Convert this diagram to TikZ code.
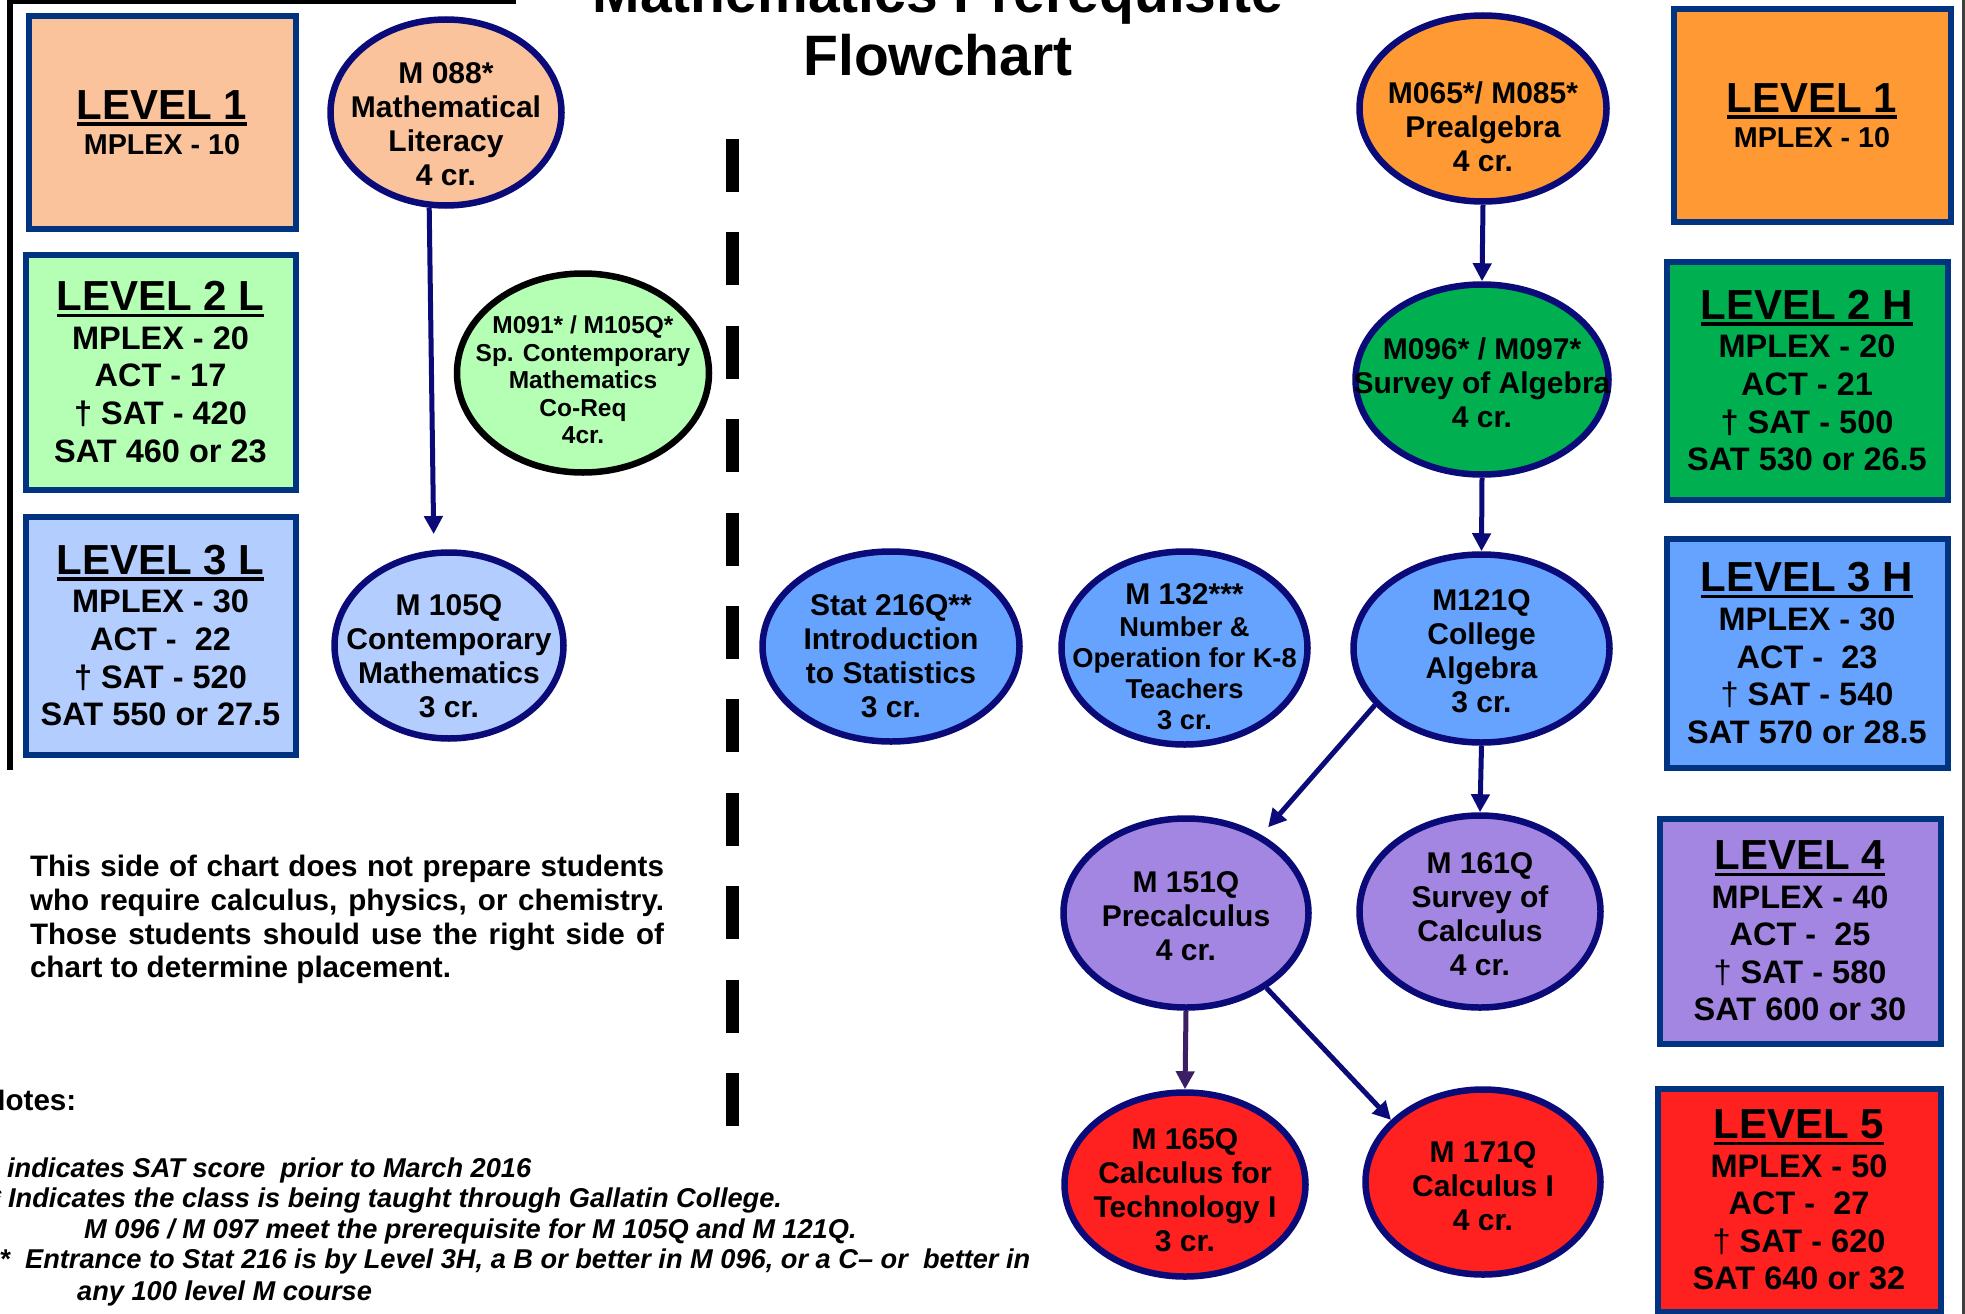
\documentclass[tikz,border=0pt]{standalone}
\usepackage{fontspec}
\setmainfont{Liberation Sans}
\usetikzlibrary{arrows.meta,shapes.geometric}

\definecolor{peach}{RGB}{250,195,155}
\definecolor{mint}{RGB}{180,255,180}
\definecolor{sky}{RGB}{180,205,255}
\definecolor{tangerine}{RGB}{255,153,51}
\definecolor{grass}{RGB}{0,176,80}
\definecolor{azure}{RGB}{102,163,255}
\definecolor{lilac}{RGB}{163,134,225}
\definecolor{scarlet}{RGB}{255,32,32}
\definecolor{boxblue}{RGB}{0,51,128}
\definecolor{navyline}{RGB}{10,10,120}
\definecolor{plumline}{RGB}{60,30,100}

\newcommand{\ulin}[1]{\setbox0=\hbox{#1}\leavevmode\rlap{\rule[-6.5pt]{\wd0}{3.5pt}}\box0}
\newcommand{\nivtit}[1]{{\fontsize{42}{42}\selectfont\ulin{#1}}}

\begin{document}
\begin{tikzpicture}[x=1pt, y=-1pt,
  nivel/.style={draw=boxblue, line width=6pt, inner sep=0pt, align=center,
    font=\bfseries\fontsize{32.5}{37.6}\selectfont},
  curso/.style={draw=navyline, line width=6.5pt, ellipse, inner sep=0pt},
  texto/.style={inner sep=0pt, align=center, font=\bfseries\fontsize{30}{34}\selectfont},
  flecha/.style={draw=navyline, line width=5pt, -{Triangle[length=18pt,width=18pt]}},
  nota/.style={anchor=base west, inner sep=0pt, font=\bfseries\itshape\fontsize{27.2}{30}\selectfont}]
  \useasboundingbox (0,0) rectangle (1965,1314);
  \fill[white] (0,0) rectangle (1965,1314);

  % Marco
  \draw[line width=6pt] (516,1) -- (10,1) -- (10,770);
  \draw[line width=2.5pt, black!75] (1963.5,0) -- (1963.5,1314);

  % Titulo
  \node[font=\bfseries\fontsize{57}{62}\selectfont, anchor=base, inner sep=0pt] (titulo) at (938,13) {Mathematics Prerequisite};
  \node[font=\bfseries\fontsize{57}{62}\selectfont, anchor=base, inner sep=0pt] (titulo2) at (938,75) {Flowchart};

  % Linea divisoria
  \draw[line width=13pt, dash pattern=on 53pt off 40.4pt] (732,139) -- (732,1126);

  % Niveles lado izquierdo
  \node[nivel, fill=peach, minimum width=267pt, minimum height=212pt,
    font=\bfseries\fontsize{28.7}{35}\selectfont] (niv1L) at (162,122.5) {\nivtit{LEVEL 1}\\MPLEX - 10};
  \node[nivel, fill=mint, minimum width=270pt, minimum height=235pt] (niv2L) at (160.5,372)
    {\nivtit{LEVEL 2 L}\\[1pt]MPLEX - 20\\ACT - 17\\† SAT - 420\\SAT 460 or 23};
  \node[nivel, fill=sky, minimum width=270pt, minimum height=238pt] (niv3L) at (160.5,635.5)
    {\nivtit{LEVEL 3 L}\\[1pt]MPLEX - 30\\ACT -\ \ 22\\† SAT - 520\\SAT 550 or 27.5};

  % Niveles lado derecho
  \node[nivel, fill=tangerine, minimum width=277pt, minimum height=212pt,
    font=\bfseries\fontsize{28.7}{35}\selectfont] (niv1H) at (1812,115.5) {\nivtit{LEVEL 1}\\MPLEX - 10};
  \node[nivel, fill=grass, minimum width=281pt, minimum height=238pt] (niv2H) at (1807,380.5)
    {\nivtit{LEVEL 2 H}\\[1pt]MPLEX - 20\\ACT - 21\\† SAT - 500\\SAT 530 or 26.5};
  \node[nivel, fill=azure, minimum width=281pt, minimum height=229pt] (niv3H) at (1807,653)
    {\nivtit{LEVEL 3 H}\\[1pt]MPLEX - 30\\ACT -\ \ 23\\{\mdseries †} SAT - 540\\SAT 570 or 28.5};
  \node[nivel, fill=lilac, minimum width=281pt, minimum height=225pt] (niv4) at (1800,931)
    {\nivtit{LEVEL 4}\\[1pt]MPLEX - 40\\ACT -\ \ 25\\{\mdseries †} SAT - 580\\SAT 600 or 30};
  \node[nivel, fill=scarlet, minimum width=283pt, minimum height=223pt] (niv5) at (1799,1200)
    {\nivtit{LEVEL 5}\\[1pt]MPLEX - 50\\ACT -\ \ 27\\{\mdseries †} SAT - 620\\SAT 640 or 32};

  % Cursos lado izquierdo
  \node[curso, fill=peach, minimum width=231pt, minimum height=186pt] (m088) at (446,112.5) {};
  \node[texto] (m088t) at (446,124) {M 088*\\Mathematical\\Literacy\\4 cr.};
  \node[curso, draw=black, fill=mint, minimum width=252pt, minimum height=199pt] (m091) at (583,373) {};
  \node[texto, font=\bfseries\fontsize{24.5}{27.6}\selectfont] (m091t) at (583,380)
    {M091* / M105Q*\\Sp. Contemporary\\Mathematics\\Co-Req\\4cr.};
  \node[curso, fill=sky, minimum width=229pt, minimum height=186pt] (m105q) at (449,645.5) {};
  \node[texto] (m105qt) at (449,656) {M 105Q\\Contemporary\\Mathematics\\3 cr.};

  % Cursos lado derecho
  \node[curso, fill=azure, minimum width=257pt, minimum height=190pt] (stat216) at (891,646.5) {};
  \node[texto] (stat216t) at (891,656) {Stat 216Q**\\Introduction\\to Statistics\\3 cr.};
  \node[curso, fill=azure, minimum width=246pt, minimum height=193pt] (m132) at (1184.5,648) {};
  \node[texto, font=\bfseries\fontsize{27.3}{31.3}\selectfont] (m132t) at (1184.5,657)
    {{\fontsize{30}{31.3}\selectfont M 132***}\\Number \&\\Operation for K-8\\Teachers\\3 cr.};
  \node[curso, fill=tangerine, minimum width=247pt, minimum height=186pt] (m065) at (1483,108.5) {};
  \node[texto] (m065t) at (1483,127) {M065*/ M085*\\Prealgebra\\4 cr.};
  \node[curso, fill=grass, minimum width=253pt, minimum height=190pt] (m096) at (1482,379.5) {};
  \node[texto] (m096t) at (1482,383) {M096* / M097*\\Survey of Algebra\\4 cr.};
  \node[curso, fill=azure, minimum width=256pt, minimum height=188pt] (m121q) at (1481.5,648.5) {};
  \node[texto] (m121qt) at (1481.5,651) {M121Q\\College\\Algebra\\3 cr.};
  \node[curso, fill=lilac, minimum width=245pt, minimum height=189pt] (m151q) at (1186,913) {};
  \node[texto] (m151qt) at (1186,916) {M 151Q\\Precalculus\\4 cr.};
  \node[curso, fill=lilac, minimum width=241pt, minimum height=192pt] (m161q) at (1480,911.5) {};
  \node[texto] (m161qt) at (1480,914) {M 161Q\\Survey of\\Calculus\\4 cr.};
  \node[curso, fill=scarlet, minimum width=241pt, minimum height=184pt] (m165q) at (1185,1184.5) {};
  \node[texto] (m165qt) at (1185,1190) {M 165Q\\Calculus for\\Technology I\\3 cr.};
  \node[curso, fill=scarlet, minimum width=235pt, minimum height=185pt] (m171q) at (1483,1182) {};
  \node[texto] (m171qt) at (1483,1186) {M 171Q\\Calculus I\\4 cr.};

  % Flechas
  \draw[flecha, shorten >=16pt] (m088.260) -- (m105q.99);
  \draw[flecha] (m065.south) -- (m096.north);
  \draw[flecha] (m096.south) -- (m121q.north);
  \draw[flecha, shorten >=10pt] (m121q.208) -- (m151q.46);
  \draw[flecha] (m121q.south) -- (m161q.north);
  \draw[flecha, draw=plumline] (m151q.south) -- (m165q.north);
  \draw[flecha] (m151q.317) -- (m171q.146);

  % Aviso lado izquierdo
  \node[inner sep=0pt, text width=634pt, align=justify, font=\bfseries\fontsize{29.6}{33.8}\selectfont] (aviso) at (347,919.5)
    {This side of chart does not prepare students\linebreak who require calculus, physics, or chemistry.\linebreak Those students should use the right side of\linebreak chart to determine placement.};

  % Notas
  \node[font=\bfseries\fontsize{29.6}{34}\selectfont, anchor=base west, inner sep=0pt] (notas) at (-16,1110) {Notes:};
  \node[nota] (nota1) at (7,1177) {\llap{†\ }indicates SAT score\ \ prior to March 2016};
  \node[nota] (nota2) at (8,1207) {\llap{*\ }Indicates the class is being taught through Gallatin College.};
  \node[nota] (nota3) at (84,1238) {M 096 / M 097 meet the prerequisite for M 105Q and M 121Q.};
  \node[nota] (nota4) at (25,1268) {\llap{**\ \ }Entrance to Stat 216 is by Level 3H, a B or better in M 096, or a C– or\ \ better in};
  \node[nota] (nota5) at (77,1300) {any 100 level M course};
\end{tikzpicture}
\end{document}
